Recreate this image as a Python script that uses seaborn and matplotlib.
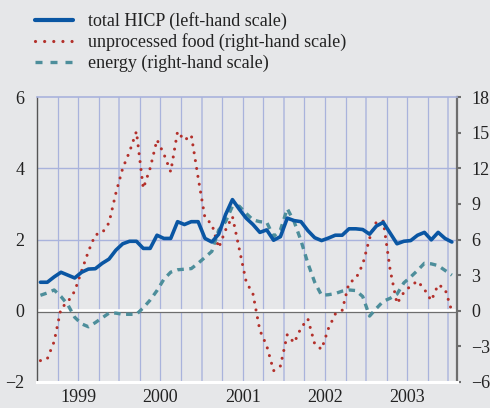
import matplotlib
matplotlib.use("Agg")
import matplotlib.pyplot as plt
from matplotlib.lines import Line2D
import seaborn as sns
import numpy as np
import pandas as pd

sns.set_style("white")
plt.rcParams["font.family"] = ["Liberation Serif", "DejaVu Serif"]

# monthly, Jan 1999 - Jan 2004
months = pd.period_range("1999-01", "2004-01", freq="M")
years = ["1999", "2000", "2001", "2002", "2003"]

hicp = [0.8, 0.8, 0.95, 1.08, 1.0, 0.92, 1.08, 1.17, 1.18, 1.33, 1.45, 1.7,
        1.88, 1.95, 1.95, 1.75, 1.75, 2.12, 2.03, 2.03, 2.5, 2.42, 2.5, 2.5,
        2.03, 1.93, 2.15, 2.7, 3.12, 2.85, 2.6, 2.42, 2.2, 2.27, 1.98, 2.08,
        2.6, 2.53, 2.5, 2.25, 2.05, 1.97, 2.04, 2.12, 2.12, 2.3, 2.3, 2.28,
        2.15, 2.38, 2.48, 2.18, 1.88, 1.95, 1.97, 2.12, 2.2, 1.99, 2.2, 2.03,
        1.93]

food = [-4.2, -4.05, -2.6, 0.2, 0.75, 1.65, 3.35, 5.0, 6.4, 6.55, 7.4, 9.9,
        12.0, 13.4, 15.1, 10.3, 12.0, 14.4, 13.2, 11.7, 15.1, 14.35, 14.8, 11.2,
        7.8, 7.3, 5.3, 6.8, 7.94, 5.2, 2.45, 1.4, -1.65, -2.95, -5.05, -4.65,
        -2.0, -2.7, -1.45, -0.68, -2.8, -3.25, -1.5, -0.28, 0.03, 2.35, 2.7, 3.9,
        6.1, 7.5, 7.55, 3.45, 0.6, 1.55, 2.1, 2.5, 1.8, 0.85, 2.2, 1.85,
        -0.05]

energy = [1.3, 1.5, 1.75, 1.2, 0.5, -0.55, -1.1, -1.35, -1.0, -0.6, -0.2, -0.2,
          -0.3, -0.3, -0.3, 0.25, 0.9, 1.7, 2.65, 3.25, 3.45, 3.5, 3.55, 4.0,
          4.5, 5.0, 6.8, 7.5, 8.8, 8.8, 8.2, 7.65, 7.5, 7.45, 6.25, 6.8,
          8.6, 7.5, 5.9, 4.0, 2.4, 1.3, 1.35, 1.45, 1.65, 1.75, 1.7, 1.2,
          -0.45, 0.2, 0.8, 1.05, 1.4, 2.35, 2.85, 3.4, 4.0, 3.95, 3.8, 3.4,
          3.0]

df = pd.DataFrame({"pos": np.arange(len(months)) + 0.5,
                   "hicp": hicp, "food": food, "energy": energy})

bg = "#e6e7e9"
grid_c = "#a9b3dc"
blue = "#0a56a3"
red = "#b3302b"
teal = "#4d8e9b"
axis_c = "#6e6e6e"
txt = "#222222"

fig = plt.figure(figsize=(4.9, 4.08), dpi=100, facecolor=bg)
ax = fig.add_axes([37 / 490, 26 / 408, 420 / 490, 285 / 408])
ax2 = ax.twinx()

# ax2 is the background layer: grid, zero line, right-hand series
ax.set_zorder(ax2.get_zorder() + 1)
ax.patch.set_visible(False)
ax2.patch.set_visible(True)
ax2.patch.set_facecolor(bg)

ax.set_xlim(0.3, 61.25)
ax.set_ylim(-2, 6)
ax2.set_ylim(-6, 18)

for q in range(3, 61, 3):
    ax2.axvline(q, color=grid_c, lw=1.4 if q % 12 == 0 else 0.9,
                alpha=0.7 if q % 12 == 0 else 1, zorder=0)
for h in [6, 12]:
    ax2.axhline(h, color=grid_c, lw=1.0, zorder=0)
ax2.axhline(0, color="white", lw=2.6, zorder=1)
ax2.axhline(-0.09, color=axis_c, lw=0.9, zorder=1)

sns.lineplot(data=df, x="pos", y="food", ax=ax2, color=red, lw=2.2,
             linestyle=(0, (0.01, 2.6)), dash_capstyle="round", zorder=3)
sns.lineplot(data=df, x="pos", y="energy", ax=ax2, color=teal, lw=2.4,
             linestyle=(0, (1.95, 1.65)), zorder=3)
sns.lineplot(data=df, x="pos", y="hicp", ax=ax, color=blue, lw=2.6, zorder=4)

# spines
for s in ax.spines.values():
    s.set_visible(False)
ax2.spines["left"].set_color("#555555")
ax2.spines["left"].set_linewidth(1.0)
ax2.spines["right"].set_color(axis_c)
ax2.spines["right"].set_linewidth(1.6)
ax2.spines["top"].set_color(grid_c)
ax2.spines["top"].set_linewidth(1.2)
ax2.spines["bottom"].set_color("white")
ax2.spines["bottom"].set_linewidth(2.2)

# left axis
ax.set_yticks([-2, 0, 2, 4, 6])
ax.tick_params(axis="y", length=0, pad=9, labelsize=13, labelcolor=txt)
ax.set_ylabel("")
ax.set_xlabel("")

# right axis
ax2.set_yticks(range(-6, 19, 3))
ax2.tick_params(axis="y", direction="out", length=3, width=1.5, color=axis_c,
                pad=7.5, labelsize=13, labelcolor=txt)
ax2.set_ylabel("")

# bottom axis: quarter ticks, longer year ticks, year labels centred
ax.set_xticks(range(0, 61, 12))
ax.set_xticks(range(3, 61, 3), minor=True)
ax.tick_params(axis="x", which="major", direction="out", length=7, width=1.5,
               color=axis_c, labelbottom=False)
ax.tick_params(axis="x", which="minor", direction="out", length=4, width=1.5,
               color=axis_c)
for k, yr in enumerate(years):
    ax.text(6 + 12 * k, -0.026, yr, transform=ax.get_xaxis_transform(),
            ha="center", va="top", fontsize=13, color=txt)

handles = [Line2D([], [], color=blue, lw=3.0),
           Line2D([], [], color=red, lw=2.3, linestyle=(0, (0.01, 2.85)),
                  dash_capstyle="round"),
           Line2D([], [], color=teal, lw=2.4, linestyle=(0, (2.1, 2.4)))]
labels = ["total HICP (left-hand scale)",
          "unprocessed food (right-hand scale)",
          "energy (right-hand scale)"]
fig.legend(handles, labels, loc="upper left",
           bbox_to_anchor=(35 / 490, 1 - 12 / 408), frameon=False,
           fontsize=13, handlelength=2.1, handletextpad=0.85,
           labelspacing=0.2, borderpad=0, borderaxespad=0,
           labelcolor=txt)

fig.savefig("out.png", dpi=100, facecolor=bg)
